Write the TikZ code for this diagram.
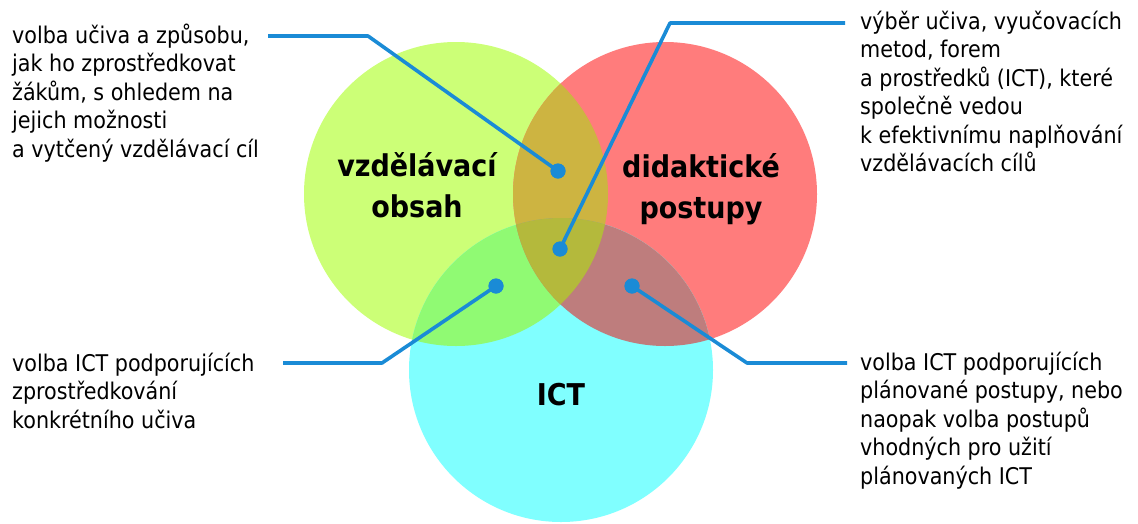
\documentclass[tikz,border=0pt]{standalone}
\usepackage{fontspec}
\setmainfont{DejaVu Sans Condensed}

\begin{document}
\begin{tikzpicture}[x=1pt,y=-1pt,
	note/.style={anchor=base west, inner sep=0pt, align=left, font=\fontsize{23}{28.5}\selectfont},
	title/.style={anchor=base, align=center, inner sep=0pt, font=\fontsize{30}{41}\selectfont\bfseries},
	dot/.style={circle, fill=pointer, inner sep=0pt, minimum size=15pt},
	leader/.style={draw=pointer, line width=3.6pt, line join=round}]

	\useasboundingbox (0,0) rectangle (1138,523);

	\definecolor{obsah}{HTML}{CCFF77}     % green circle
	\definecolor{postupy}{HTML}{FF7C7C}   % red circle
	\definecolor{ict}{HTML}{80FFFF}       % cyan circle
	\definecolor{obsahpostupy}{HTML}{CDB441}
	\definecolor{obsahict}{HTML}{90FA73}
	\definecolor{postupyict}{HTML}{BE7D7D}
	\definecolor{allthree}{HTML}{B4B93C}
	\definecolor{pointer}{HTML}{1A8BD6}

	%circles
	\def\R{152}
	\coordinate (cObsah)   at (456,194);
	\coordinate (cPostupy) at (665,194);
	\coordinate (cIct)     at (561,370);

	\fill[obsah]   (cObsah)   circle[radius=\R];
	\fill[postupy] (cPostupy) circle[radius=\R];
	\fill[ict]     (cIct)     circle[radius=\R];

	% overlaps
	\begin{scope}
		\clip (cObsah) circle[radius=\R];
		\fill[obsahpostupy] (cPostupy) circle[radius=\R];
		\fill[obsahict] (cIct) circle[radius=\R];
	\end{scope}
	\begin{scope}
		\clip (cPostupy) circle[radius=\R];
		\fill[postupyict] (cIct) circle[radius=\R];
	\end{scope}
	\begin{scope}
		\clip (cObsah) circle[radius=\R];
		\clip (cPostupy) circle[radius=\R];
		\fill[allthree] (cIct) circle[radius=\R];
	\end{scope}

	% circle labels (anchored on the last baseline)
	\node[title] (tObsah)   at (417,217) {vzdělávací\\obsah};
	\node[title] (tPostupy) at (701,218) {didaktické\\postupy};
	\node[title] (tIct)     at (561,405) {ICT};

	% leader bends and ends
	\coordinate (bendA) at (368,36);
	\coordinate (endA)  at (268,36);
	\coordinate (bendB) at (670,23);
	\coordinate (endB)  at (845,23);
	\coordinate (bendC) at (382,363);
	\coordinate (endC)  at (283,363);
	\coordinate (bendD) at (747,363);
	\coordinate (endD)  at (847,363);

	% dots
	\node[dot] (dotA) at (558,171) {};
	\node[dot] (dotB) at (560,249) {};
	\node[dot] (dotC) at (496,286) {};
	\node[dot] (dotD) at (632,286) {};

	\draw[leader] (dotA.center) -- (bendA) -- (endA);
	\draw[leader] (dotB.center) -- (bendB) -- (endB);
	\draw[leader] (dotC.center) -- (bendC) -- (endC);
	\draw[leader] (dotD.center) -- (bendD) -- (endD);

	% redraw dots over the leaders
	\foreach \d in {dotA,dotB,dotC,dotD}
		\fill[pointer] (\d.center) circle[radius=7.5];

	% notes (anchored on the last baseline)
	\node[note] (noteA) at (12,157)
		{volba učiva a způsobu,\\jak ho zprostředkovat\\žákům, s ohledem na\\jejich možnosti\\a vytčený vzdělávací cíl};
	\node[note] (noteB) at (860,171.5)
		{výběr učiva, vyučovacích\\metod, forem\\a prostředků (ICT), které\\společně vedou\\k efektivnímu naplňování\\vzdělávacích cílů};
	\node[note] (noteC) at (12,428)
		{volba ICT podporujících\\zprostředkování\\konkrétního učiva};
	\node[note] (noteD) at (860,484)
		{volba ICT podporujících\\plánované postupy, nebo\\naopak volba postupů\\vhodných pro užití\\plánovaných ICT};

\end{tikzpicture}
\end{document}
